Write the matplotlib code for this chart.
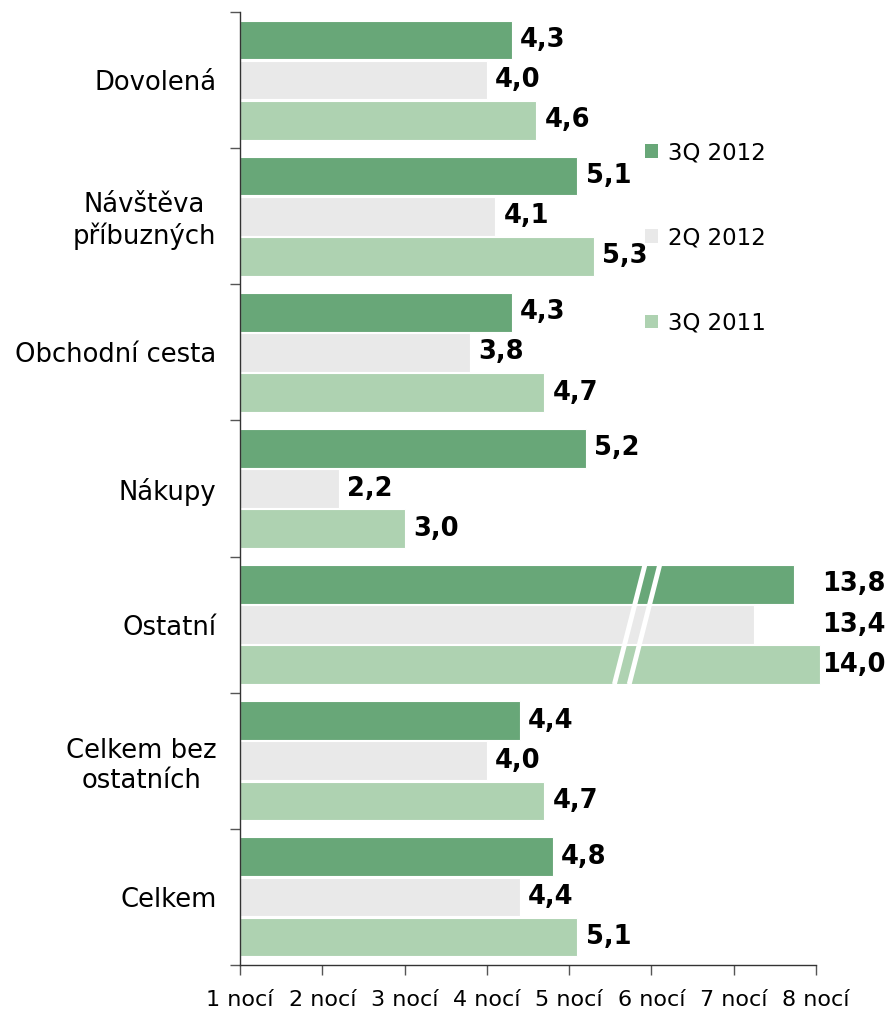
import matplotlib
matplotlib.use("Agg")
import matplotlib.pyplot as plt
from matplotlib.patches import Patch
import numpy as np

plt.rcParams['font.family'] = ['DejaVu Sans']

categories = ["Dovolená", "Návštěva\npříbuzných", "Obchodní cesta", "Nákupy",
              "Ostatní", "Celkem bez\nostatních", "Celkem"]
series = ["3Q 2012", "2Q 2012", "3Q 2011"]
v_3q2012 = [4.3, 5.1, 4.3, 5.2, 13.8, 4.4, 4.8]
v_2q2012 = [4.0, 4.1, 3.8, 2.2, 13.4, 4.0, 4.4]
v_3q2011 = [4.6, 5.3, 4.7, 3.0, 14.0, 4.7, 5.1]
# "Ostatní" is drawn with a broken axis; bar lengths as they appear in the picture
ostatni_drawn = [7.73, 7.25, 8.05]
tick_labels = ["1 nocí", "2 nocí", "3 nocí", "4 nocí", "5 nocí", "6 nocí", "7 nocí", "8 nocí"]

colors = ["#68a778", "#e9e9e9", "#aed2b1"]
offsets = [-0.295, 0.0, 0.295]
bar_h = 0.285

fig = plt.figure(figsize=(8.92, 10.10), dpi=100)
ax = fig.add_axes([240 / 892, 1 - 965 / 1010, 576 / 892, 953 / 1010])

y = np.arange(len(categories))
broken = categories.index("Ostatní")
values = [v_3q2012, v_2q2012, v_3q2011]

for s, vals in enumerate(values):
    lengths = [ostatni_drawn[s] if i == broken else v for i, v in enumerate(vals)]
    ax.barh(y + offsets[s], np.array(lengths) - 1, left=1, height=bar_h,
            color=colors[s], edgecolor="white", linewidth=0.8, clip_on=False,
            label=series[s], zorder=2)
    for i, (v, l) in enumerate(zip(vals, lengths)):
        if i == broken:
            xt = max(ostatni_drawn) + 0.03
        else:
            xt = l + 0.1
        ax.text(xt, y[i] + offsets[s], ("%.1f" % v).replace(".", ","),
                ha="left", va="center", fontsize=18.5, fontweight="bold",
                color="black", clip_on=False)

# break marks on the "Ostatní" bars
top = broken + offsets[0] - bar_h / 2
bot = broken + offsets[2] + bar_h / 2
for dx in (0.0, 0.18):
    ax.plot([5.92 + dx, 5.55 + dx], [top, bot], color="white", lw=3.5,
            solid_capstyle="butt", zorder=3)

ax.set_xlim(1, 8)
ax.set_ylim(len(categories) - 0.5, -0.5)
ax.set_xticks(range(1, 9))
ax.set_xticklabels(tick_labels, fontsize=16)
ax.set_yticks(y)
ax.set_yticklabels(categories, fontsize=18.6, multialignment="center")
ax.set_yticks(np.arange(len(categories) + 1) - 0.5, minor=True)

ax.tick_params(axis="y", which="major", length=0, pad=17)
ax.tick_params(axis="y", which="minor", length=7, width=1, color="#555555", direction="out")
ax.tick_params(axis="x", length=7, width=1, color="#555555", direction="out", pad=11)

for side in ("top", "right"):
    ax.spines[side].set_visible(False)
for side in ("left", "bottom"):
    ax.spines[side].set_color("#333333")
    ax.spines[side].set_linewidth(1)

handles = [Patch(facecolor=c, edgecolor="none") for c in colors]
fig.legend(handles, series, loc="upper left", bbox_to_anchor=(645 / 892, 1 - 141 / 1010),
           frameon=False, fontsize=16.5, handlelength=0.55, handleheight=0.55,
           handletextpad=0.45, labelspacing=2.72, borderpad=0, borderaxespad=0)

fig.savefig("out.png", dpi=100)
